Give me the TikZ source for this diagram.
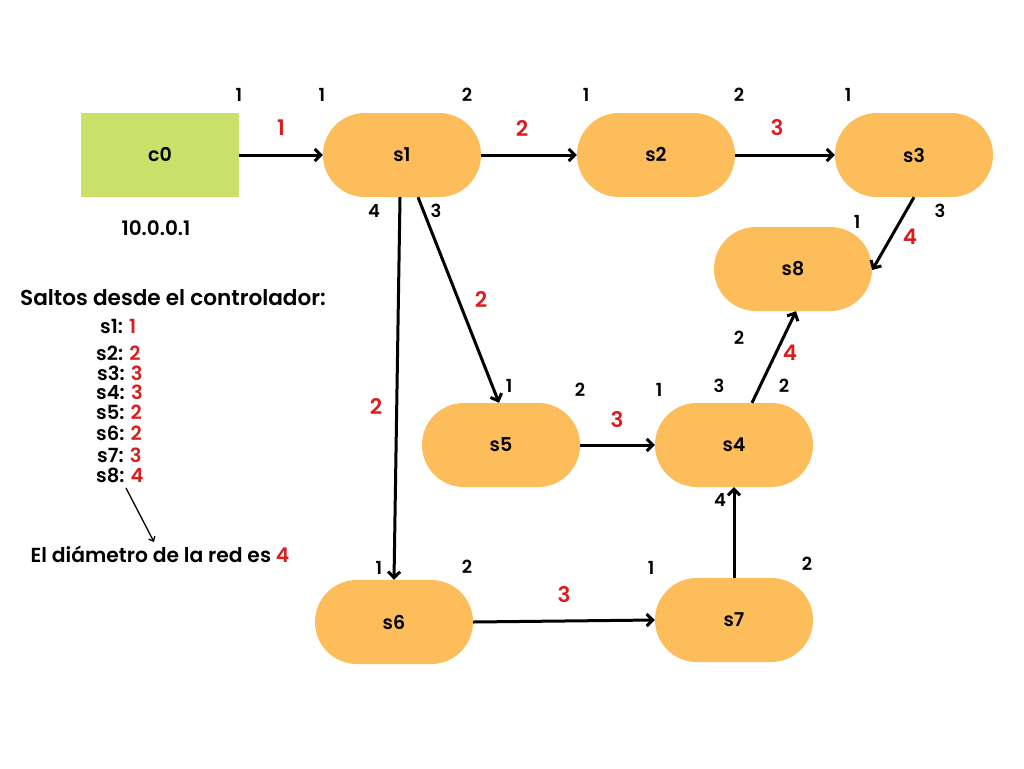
\documentclass[tikz,border=0pt]{standalone}
\usepackage{fontspec}
\setmainfont{Poppins}[BoldFont={Poppins SemiBold}]
\usetikzlibrary{arrows.meta}
\definecolor{orng}{HTML}{FEBD5B}
\definecolor{grn}{HTML}{CAE169}
\definecolor{rd}{HTML}{D91E1E}
\tikzset{
  sw/.style={rectangle, rounded corners=41.9pt, fill=orng, minimum width=158pt, minimum height=84pt, inner sep=0pt, font=\bfseries\fontsize{19}{22}\selectfont},
  ctl/.style={rectangle, fill=grn, minimum width=158pt, minimum height=84pt, inner sep=0pt, font=\bfseries\fontsize{19}{22}\selectfont},
  lb/.style={inner sep=0pt, font=\bfseries\fontsize{18}{21}\selectfont},
  hop/.style={inner sep=0pt, text=rd, font=\bfseries\fontsize{21.5}{25}\selectfont},
  lnk/.style={line width=3pt, -{Straight Barb[length=6pt,width=12pt,line width=3pt]}},
  lst/.style={inner sep=0pt, anchor=west, font=\bfseries\fontsize{19.5}{22}\selectfont}
}
\begin{document}
\begin{tikzpicture}[x=1pt, y=-1pt]
\useasboundingbox (0,0) rectangle (1024,768);
\fill[white] (0,0) rectangle (1024,768);
% nodes
\node[ctl] (c0) at (160,155) {c0};
\node[sw] (s1) at (402,155) {s1};
\node[sw] (s2) at (656,155) {s2};
\node[sw] (s3) at (914,155) {s3};
\node[sw] (s8) at (793,269) {s8};
\node[sw] (s5) at (501,445) {s5};
\node[sw] (s4) at (734,445) {s4};
\node[sw] (s6) at (394,622) {s6};
\node[sw] (s7) at (734,620) {s7};
% links
\draw[lnk] (c0.east) -- (s1.west);
\draw[lnk] (s1.east) -- (s2.west);
\draw[lnk] (s2.east) -- (s3.west);
\draw[lnk] (s3.south) -- ([yshift=-1pt]s8.east);
\draw[lnk] ([xshift=-2pt]s1.south) -- (s6.north);
\draw[lnk] ([xshift=16pt]s1.south) -- ([xshift=-2pt]s5.north);
\draw[lnk] (s5.east) -- (s4.west);
\draw[lnk] ([xshift=18pt]s4.north) -- ([xshift=3pt]s8.south);
\draw[lnk] (s7.north) -- (s4.south);
\draw[lnk] (s6.east) -- (s7.west);
% port labels
\node[lb] (p1) at (239,95) {1};
\node[lb] (p2) at (322,95) {1};
\node[lb] (p3) at (467,95) {2};
\node[lb] (p4) at (586,95) {1};
\node[lb] (p5) at (739,95) {2};
\node[lb] (p6) at (848,95) {1};
\node[lb] (p7) at (374,211) {4};
\node[lb] (p8) at (436,211) {3};
\node[lb] (p9) at (857,222) {1};
\node[lb] (p10) at (940,211) {3};
\node[lb] (p11) at (739,338) {2};
\node[lb] (p12) at (509,386) {1};
\node[lb] (p13) at (580,390) {2};
\node[lb] (p14) at (659,390) {1};
\node[lb] (p15) at (719,386) {3};
\node[lb] (p16) at (784,386) {2};
\node[lb] (p17) at (720,500) {4};
\node[lb] (p18) at (379,568) {1};
\node[lb] (p19) at (467,567) {2};
\node[lb] (p20) at (651,568) {1};
\node[lb] (p21) at (807,564) {2};
\node[lb, font=\bfseries\fontsize{20}{23}\selectfont] (ip) at (156,228) {10.0.0.1};
% hop labels
\node[hop] (h1) at (281,128) {1};
\node[hop] (h2) at (522,128) {2};
\node[hop] (h3) at (777,128) {3};
\node[hop] (h4) at (910,237) {4};
\node[hop] (h5) at (481,299) {2};
\node[hop] (h6) at (376,406) {2};
\node[hop] (h7) at (790,353) {4};
\node[hop] (h8) at (617,420) {3};
\node[hop] (h9) at (564,595) {3};
% legend
\node[inner sep=0pt, font=\bfseries\fontsize{21.6}{25}\selectfont] (title) at (173,298) {Saltos desde el controlador:};
\node[lst] (l1) at (100,326) {s1: \textcolor{rd}{1}};
\node[lst] (l2) at (96,353) {s2: \textcolor{rd}{2}};
\node[lst] (l3) at (97,373) {s3: \textcolor{rd}{3}};
\node[lst] (l4) at (96,392) {s4: \textcolor{rd}{3}};
\node[lst] (l5) at (96,412) {s5: \textcolor{rd}{2}};
\node[lst] (l6) at (96,433) {s6: \textcolor{rd}{2}};
\node[lst] (l7) at (97,455) {s7: \textcolor{rd}{3}};
\node[lst] (l8) at (96,475) {s8: \textcolor{rd}{4}};
\node[inner sep=0pt, font=\bfseries\fontsize{20.3}{23}\selectfont] (diam) at (160,554) {El diámetro de la red es \textcolor{rd}{4}};
\coordinate (a0) at (126,488);
\coordinate (a1) at (154,542);
\draw[line width=1.3pt, -{Straight Barb[length=4pt,width=7pt,line width=1.3pt]}] (a0) -- (a1);
\end{tikzpicture}
\end{document}
